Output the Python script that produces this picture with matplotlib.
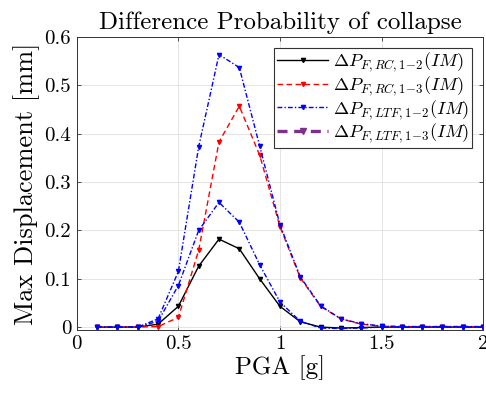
import matplotlib
matplotlib.use("Agg")
import matplotlib.pyplot as plt
from matplotlib.lines import Line2D
import numpy as np

plt.rcParams['font.family'] = ['cmr10', 'DejaVu Serif']
plt.rcParams['mathtext.fontset'] = 'cm'
plt.rcParams['axes.unicode_minus'] = False

# PGA values [g]
pga = [0.1, 0.2, 0.3, 0.4, 0.5, 0.6, 0.7, 0.8, 0.9, 1.0,
       1.1, 1.2, 1.3, 1.4, 1.5, 1.6, 1.7, 1.8, 1.9, 2.0]

rc_12 = [0, 0, 0, 0.006, 0.043, 0.126, 0.182, 0.162, 0.100, 0.043,
         0.011, 0.000, -0.002, -0.001, 0, 0, 0, 0, 0, 0]
rc_13 = [0, 0, 0, 0.001, 0.020, 0.159, 0.383, 0.457, 0.356, 0.208,
         0.102, 0.043, 0.017, 0.006, 0.002, 0.001, 0.001, 0.001, 0.001, 0.001]
ltf_12 = [0, 0, 0, 0.012, 0.086, 0.200, 0.258, 0.217, 0.129, 0.052,
          0.012, -0.002, -0.003, -0.002, 0, 0, 0, 0, 0, 0]
ltf_13 = [0, 0, 0, 0.017, 0.115, 0.373, 0.564, 0.537, 0.375, 0.212,
          0.104, 0.044, 0.017, 0.007, 0.002, 0.001, 0.001, 0.001, 0.001, 0.001]

labels = [r'$\Delta P_{F,RC,1\!-\!2}(IM)$', r'$\Delta P_{F,RC,1\!-\!3}(IM)$',
          r'$\Delta P_{F,LTF,1\!-\!2}(IM)$', r'$\Delta P_{F,LTF,1\!-\!3}(IM)$']

dash = (0, (4, 2.5))
dashdot = (0, (3.5, 1.5, 1, 1.5))

fig = plt.figure(figsize=(4.86, 3.99), dpi=100)
ax = fig.add_axes([0.158, 0.173, 0.836, 0.734])

ax.plot(pga, rc_12, color='black', ls='-', lw=1.0, marker='v', ms=3)
ax.plot(pga, rc_13, color='red', ls=dash, lw=1.0, marker='v', ms=3)
ax.plot(pga, ltf_12, color='blue', ls=dashdot, lw=1.0, marker='v', ms=3)
ax.plot(pga, ltf_13, color='blue', ls=dashdot, lw=1.0, marker='v', ms=3)

handles = [Line2D([], [], color='black', ls='-', lw=1.0, marker='v', ms=3),
           Line2D([], [], color='red', ls=dash, lw=1.0, marker='v', ms=3),
           Line2D([], [], color='blue', ls=dashdot, lw=1.0, marker='v', ms=3),
           Line2D([], [], color='#7e2f8e', ls=(0, (3, 2)), lw=2.4, marker='v', ms=4)]
leg = ax.legend(handles, labels, loc='upper right', fontsize=13.2,
                fancybox=False, edgecolor='#333333', framealpha=1,
                borderpad=0.15, labelspacing=0.0, handlelength=2.8,
                handletextpad=0.25, borderaxespad=0.6)
leg.get_frame().set_linewidth(0.8)

ax.set_xlim(0, 2)
ax.set_ylim(-0.006, 0.6)
ax.set_xticks([0, 0.5, 1, 1.5, 2])
ax.set_xticklabels(['0', '0.5', '1', '1.5', '2'])
ax.set_yticks([0, 0.1, 0.2, 0.3, 0.4, 0.5, 0.6])
ax.set_yticklabels(['0', '0.1', '0.2', '0.3', '0.4', '0.5', '0.6'])
ax.tick_params(direction='in', top=True, right=True, labelsize=15,
               length=3, width=0.6, color='#333333', pad=4)
ax.grid(True, color='#e0e0e0', lw=0.6)
ax.set_axisbelow(True)
for sp in ax.spines.values():
    sp.set_linewidth(0.7)
    sp.set_color('#333333')

ax.set_title('Difference Probability of collapse', fontsize=18, pad=6)
ax.set_xlabel('PGA [g]', fontsize=18, labelpad=1)
ax.set_ylabel('Max Displacement [mm]', fontsize=19, labelpad=3)

fig.savefig('out.png', dpi=100)
